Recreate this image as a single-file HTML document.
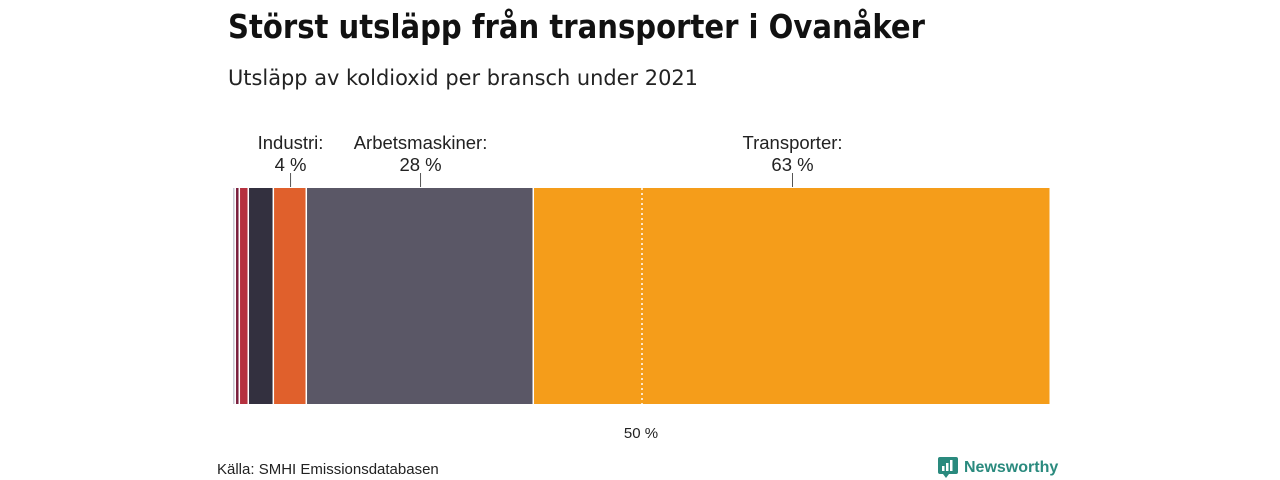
<!DOCTYPE html>
<html><head><meta charset="utf-8"><style>
body{margin:0;background:#fff;width:1280px;height:480px;overflow:hidden}
svg{display:block}
</style></head><body>
<svg id="c" width="1280" height="480" font-family="Liberation Sans, DejaVu Sans, sans-serif">
<text x="228" y="38" font-size="33" font-weight="bold" fill="#111" textLength="697" lengthAdjust="spacingAndGlyphs" font-family="DejaVu Sans, sans-serif">Störst utsläpp från transporter i Ovanåker</text>
<text x="228" y="85" font-size="21" fill="#222" textLength="470" lengthAdjust="spacingAndGlyphs" font-family="DejaVu Sans, sans-serif">Utsläpp av koldioxid per bransch under 2021</text>
<g id="bars"></g>
<text x="641" y="438" font-size="15" text-anchor="middle" fill="#222">50 %</text>
<text x="217" y="474" font-size="15" fill="#222">Källa: SMHI Emissionsdatabasen</text>
<g>
<rect x="938" y="457" width="20" height="17" rx="2" fill="#2a8a7e"/>
<path d="M943 474 l3 4 l3 -4z" fill="#2a8a7e"/>
<rect x="942" y="466" width="2.5" height="5" fill="#fff"/><rect x="946" y="463" width="2.5" height="8" fill="#fff"/><rect x="950" y="460" width="2.5" height="11" fill="#fff"/>
<text x="964" y="472" font-size="16" font-weight="bold" fill="#2a8a7e">Newsworthy</text>
</g>
</svg>
<script>
const categories=["Övrigt","Egen uppvärmning","Jordbruk","Energiförsörjning","Industri","Arbetsmaskiner","Transporter"];
const values=[0.37,0.49,1.1,3.06,4.03,27.75,63.2];
const colors=["#c9c9d3","#7a1f3d","#b5313f","#33303f","#e0602c","#5a5766","#f59d1a"];
const labelTitles=[null,null,null,null,"Industri:","Arbetsmaskiner:","Transporter:"];
const labelValues=[null,null,null,null,"4 %","28 %","63 %"];
const X0=233,W=818,Y0=188,H=216;
const total=values.reduce((a,b)=>a+b,0);
const x=v=>X0+v/total*W;
const ns="http://www.w3.org/2000/svg";
const g=document.getElementById('bars');
let cum=0;
values.forEach((v,i)=>{
 const r=document.createElementNS(ns,'rect');
 r.setAttribute('x',x(cum));r.setAttribute('y',Y0);
 r.setAttribute('width',Math.max(0.8,x(cum+v)-x(cum)-1.5));r.setAttribute('height',H);
 r.setAttribute('fill',colors[i]);
 
 
 g.appendChild(r);
 if(labelTitles[i]){
  const cx=(x(cum)+x(cum+v))/2;
  const l=document.createElementNS(ns,'line');
  l.setAttribute('x1',cx);l.setAttribute('x2',cx);l.setAttribute('y1',173);l.setAttribute('y2',187);
  l.setAttribute('stroke','#555');
  
  
  g.appendChild(l);
  [[labelTitles[i],149],[labelValues[i],171]].forEach(([t,y])=>{
   const tx=document.createElementNS(ns,'text');
   tx.setAttribute('x',cx);tx.setAttribute('y',y);tx.setAttribute('text-anchor','middle');
   tx.setAttribute('font-size','18.5');tx.setAttribute('fill','#222');
   tx.textContent=t;
   
   
   g.appendChild(tx);
  });
 }
 cum+=v;
});
const m=document.createElementNS(ns,'line');
const mx=x(total*0.5);
m.setAttribute('x1',mx);m.setAttribute('x2',mx);m.setAttribute('y1',Y0);m.setAttribute('y2',Y0+H);
m.setAttribute('stroke','#fff');m.setAttribute('stroke-width','1.5');m.setAttribute('stroke-dasharray','2,3');


g.appendChild(m);
</script>
</body></html>
